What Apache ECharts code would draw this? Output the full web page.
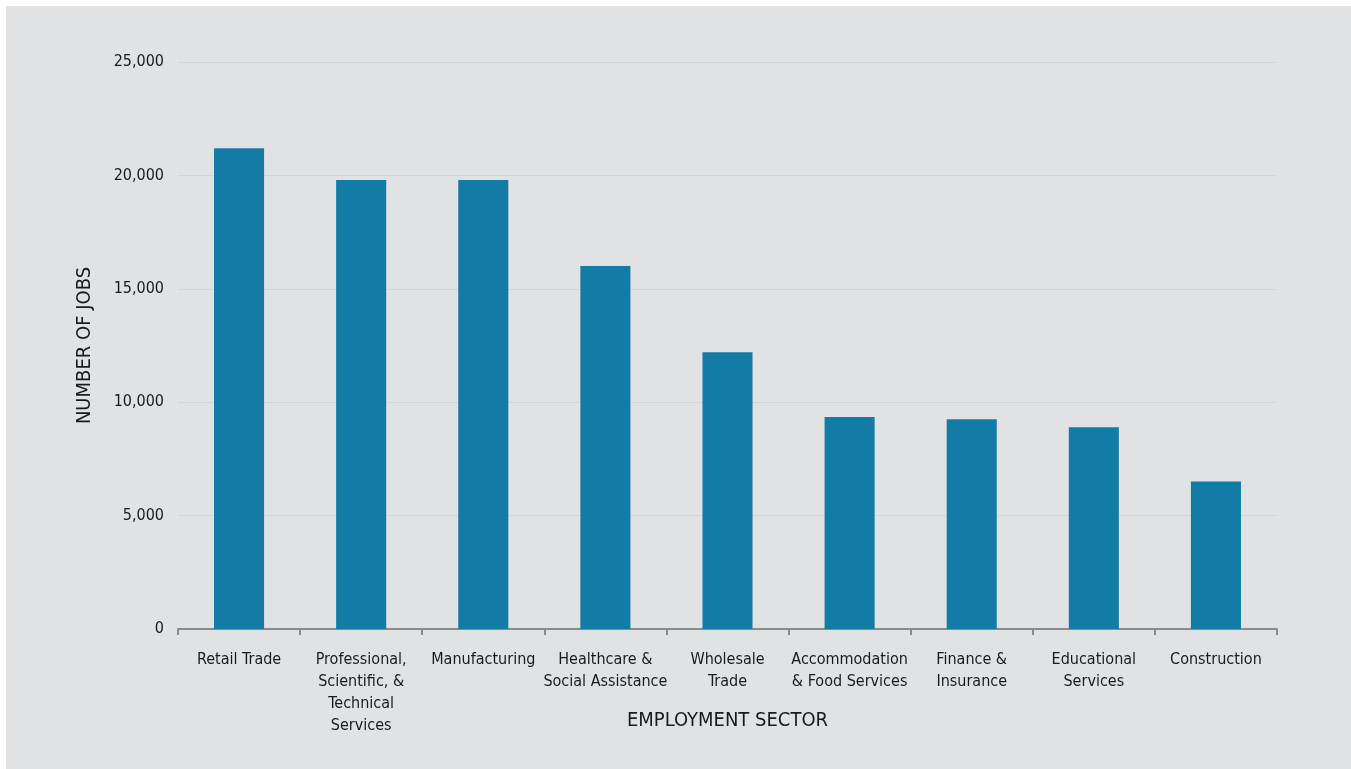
<!DOCTYPE html>
<html>
<head>
<meta charset="utf-8">
<script src="https://cdn.jsdelivr.net/npm/echarts@6/dist/echarts.min.js"></script>
<style>
  html, body { margin: 0; padding: 0; background: #ffffff; }
  #chart { position: absolute; left: 6px; top: 6px; width: 1345px; height: 763px; }
</style>
</head>
<body>
<div id="chart"></div>
<script>
// employment sector categories and job counts
const sectors = [
  'Retail Trade',
  'Professional,\nScientific, &\nTechnical\nServices',
  'Manufacturing',
  'Healthcare &\nSocial Assistance',
  'Wholesale\nTrade',
  'Accommodation\n& Food Services',
  'Finance &\nInsurance',
  'Educational\nServices',
  'Construction'
]
const jobs = [21200, 19800, 19800, 16000, 12200, 9350, 9250, 8900, 6500]

const FONT = '"Liberation Sans Narrow", "DejaVu Sans Condensed", sans-serif'

const myChart = echarts.init(document.getElementById('chart'))
myChart.setOption({
  backgroundColor: '#e1e2e4',
  animation: false,
  grid: { left: 172, right: 74, top: 56, bottom: 140 },
  xAxis: {
    type: 'category',
    data: sectors,
    name: 'EMPLOYMENT SECTOR',
    nameLocation: 'middle',
    nameGap: 82,
    nameMoveOverlap: false,
    nameTextStyle: { fontFamily: FONT, fontSize: 20, color: '#1a1a1a' },
    axisLine: { lineStyle: { color: '#8a8a8a', width: 2 } },
    axisTick: { show: true, length: 6, lineStyle: { color: '#8a8a8a', width: 2 } },
    axisLabel: {
      fontFamily: FONT, fontSize: 16, color: '#1a1a1a',
      lineHeight: 22, margin: 20, interval: 0
    }
  },
  yAxis: {
    type: 'value',
    min: 0,
    max: 25000,
    interval: 5000,
    name: 'NUMBER OF JOBS',
    nameLocation: 'middle',
    nameGap: 83,
    nameMoveOverlap: false,
    nameTextStyle: { fontFamily: FONT, fontSize: 20, color: '#1a1a1a' },
    axisLine: { show: false },
    axisTick: { show: false },
    splitLine: { lineStyle: { color: '#d4d5d7', width: 1 } },
    axisLabel: {
      fontFamily: FONT, fontSize: 16, color: '#1a1a1a', margin: 14,
      formatter: v => v.toLocaleString('en-US')
    }
  },
  series: [
    {
      type: 'bar',
      data: jobs,
      barWidth: '41%',
      itemStyle: { color: '#137ca6' }
    }
  ]
})
</script>
</body>
</html>
